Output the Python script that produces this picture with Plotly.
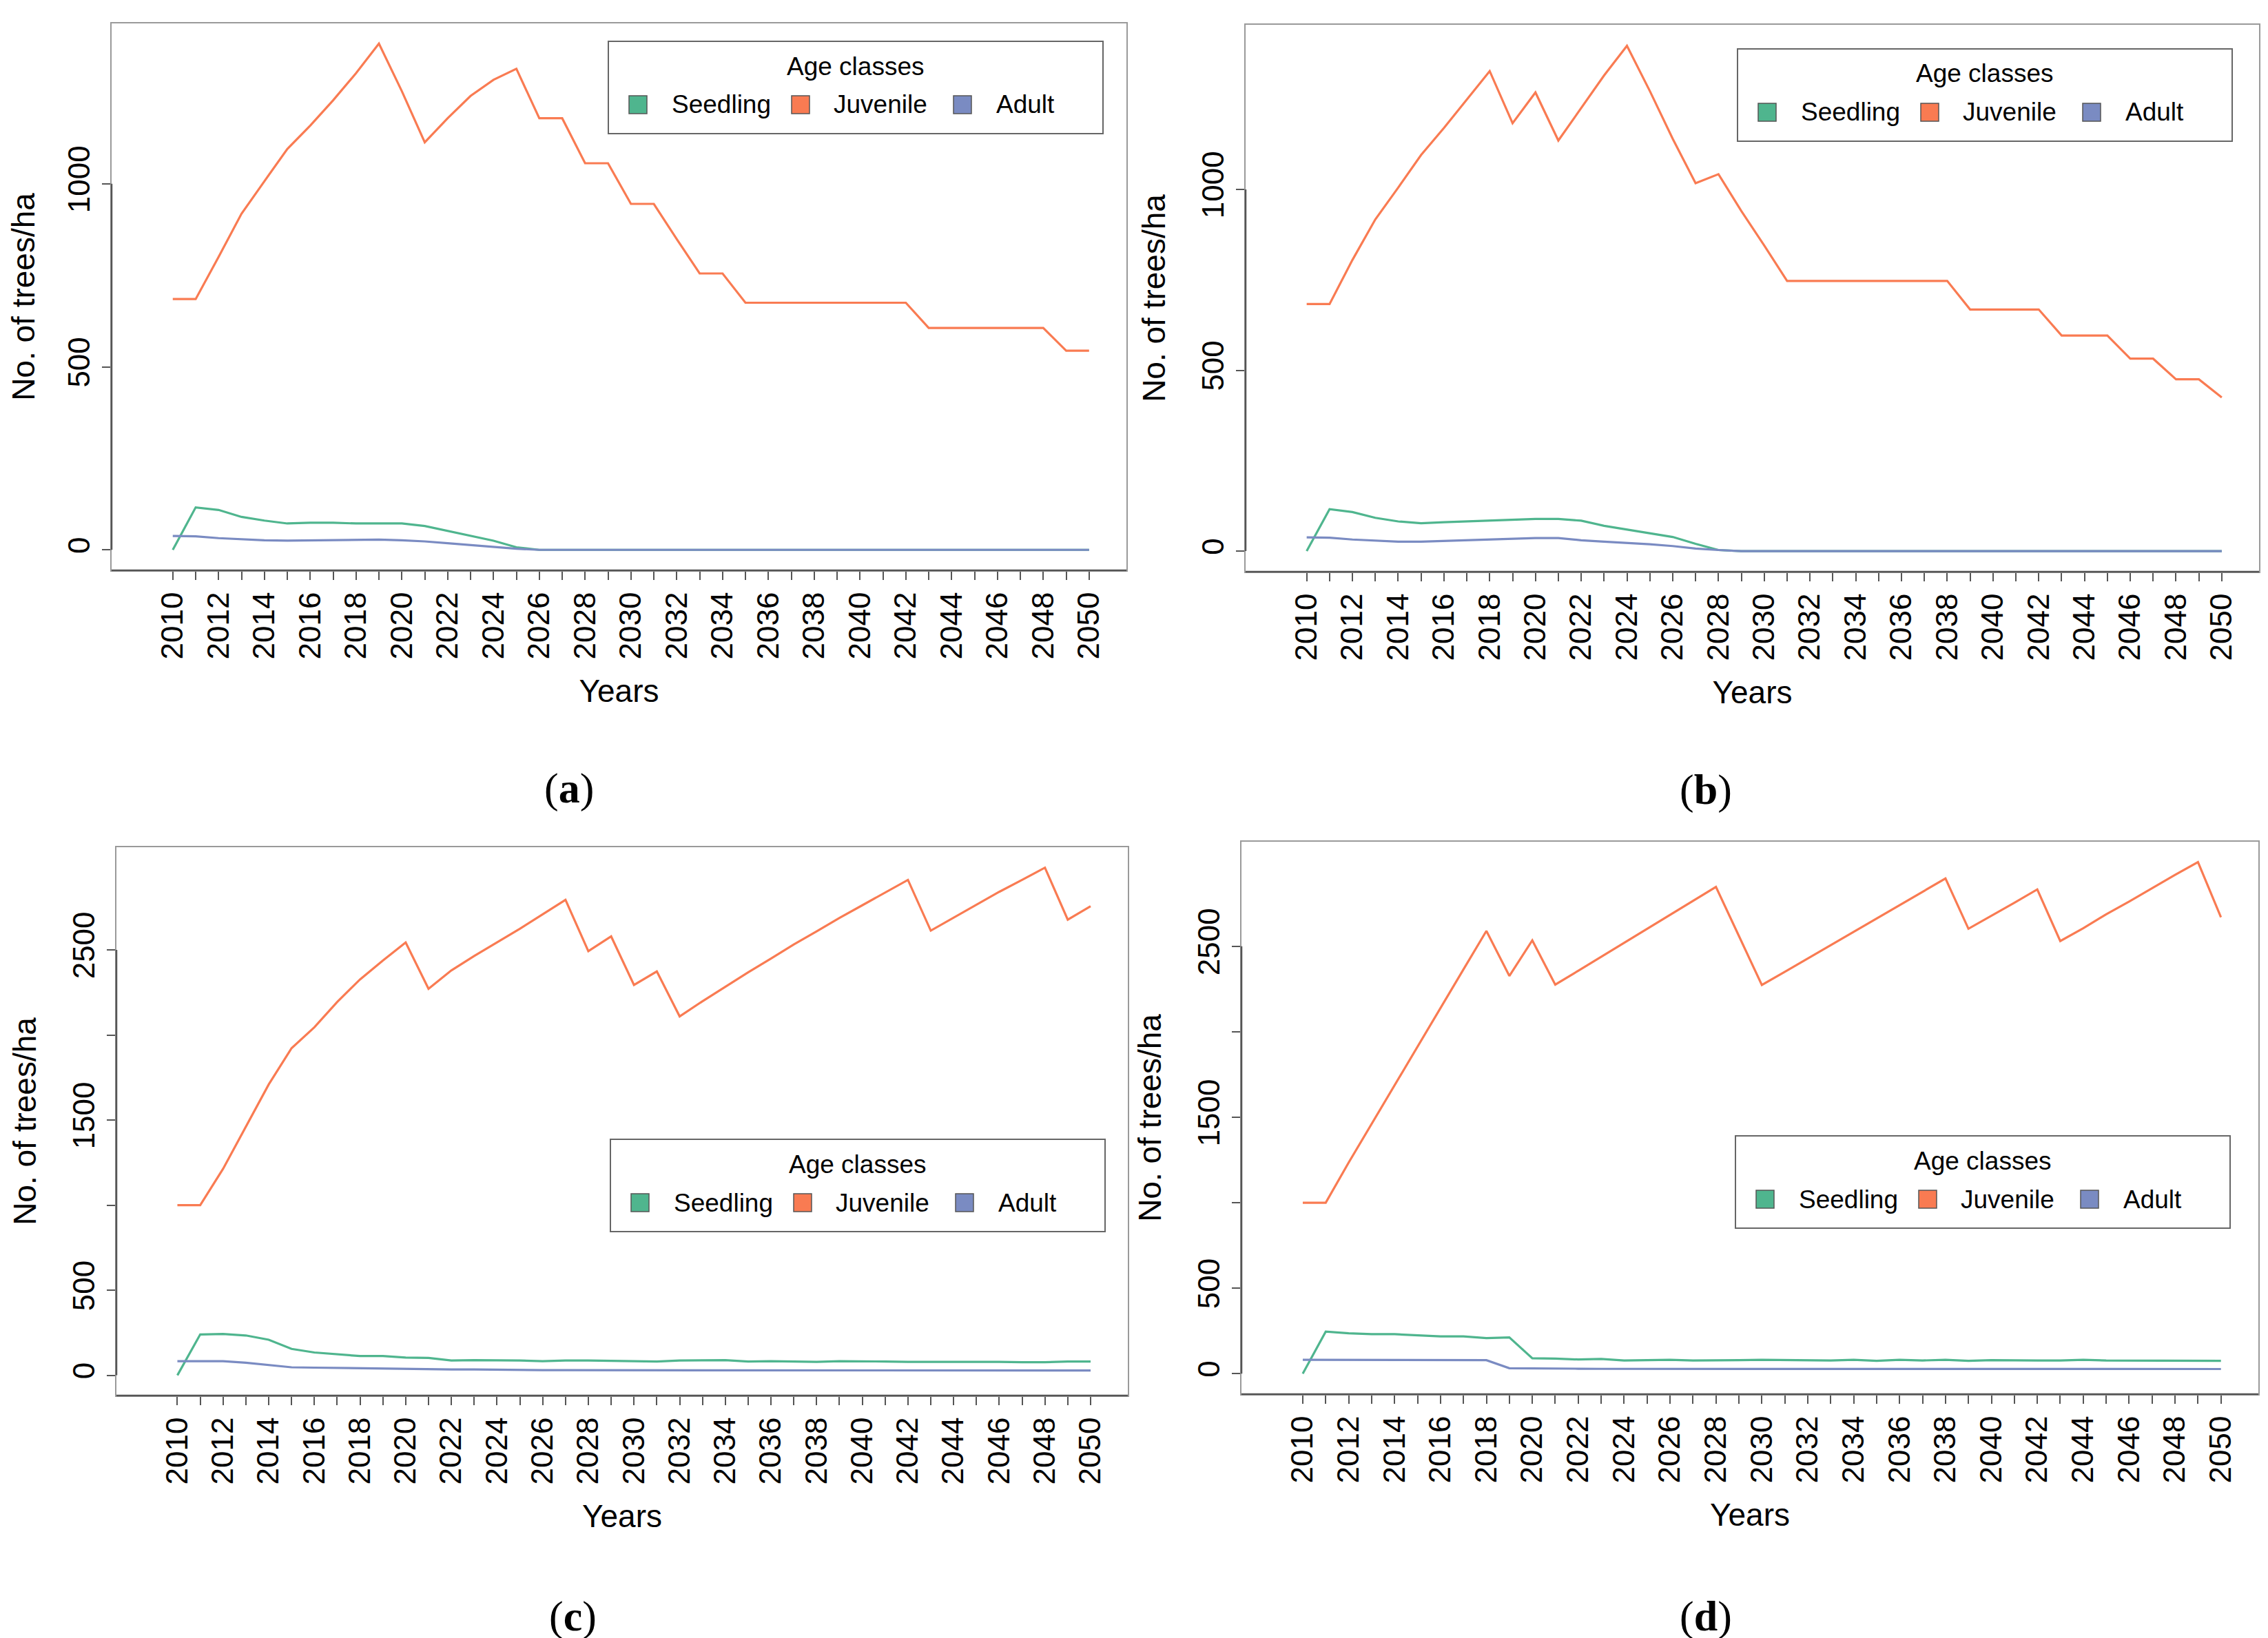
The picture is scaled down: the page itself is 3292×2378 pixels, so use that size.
import plotly.graph_objects as go

W, H = 3292, 2378
FONT = "Liberation Sans"

years = list(range(2010, 2051))
series_names = ["Seedling", "Juvenile", "Adult"]
series_colors = ["#4FB58E", "#F97B52", "#7A8BC2"]

# ---- Panel (a) ----
a_seedling = [0, 116, 109, 90, 80, 72, 74, 74, 72, 72, 72, 65, 52, 39, 25, 7,
              0, 0, 0, 0, 0, 0, 0, 0, 0, 0, 0, 0, 0, 0, 0, 0, 0, 0, 0, 0, 0, 0, 0, 0, 0]
a_juvenile = [685, 685, 800, 918, 1007, 1095, 1159, 1228, 1302, 1383, 1253, 1113, 1179, 1240,
              1284, 1314, 1179, 1179, 1056, 1056, 945, 945, 849, 755, 755, 675, 675, 675, 675,
              675, 675, 675, 675, 606, 606, 606, 606, 606, 606, 544, 544]
a_adult = [38, 37, 32, 29, 26, 25, 26, 27, 27, 28, 26, 23, 18, 13, 8, 3,
           0, 0, 0, 0, 0, 0, 0, 0, 0, 0, 0, 0, 0, 0, 0, 0, 0, 0, 0, 0, 0, 0, 0, 0, 0]

# ---- Panel (b) ----
b_seedling = [0, 116, 108, 92, 82, 77, 80, 82, 84, 87, 89, 89, 84, 70, 60, 50, 39, 20, 3,
              0, 0, 0, 0, 0, 0, 0, 0, 0, 0, 0, 0, 0, 0, 0, 0, 0, 0, 0, 0, 0, 0]
b_juvenile = [683, 683, 805, 917, 1005, 1095, 1170, 1248, 1327, 1183, 1268, 1135, 1225, 1315,
              1397, 1272, 1140, 1017, 1042, 940, 845, 747, 747, 747, 747, 747, 747, 747, 747,
              668, 668, 668, 668, 596, 596, 596, 532, 532, 475, 475, 425]
b_adult = [38, 37, 32, 29, 26, 26, 28, 29, 31, 34, 36, 36, 30, 26, 23, 19, 14, 7, 3,
           0, 0, 0, 0, 0, 0, 0, 0, 0, 0, 0, 0, 0, 0, 0, 0, 0, 0, 0, 0, 0, 0]

# ---- Panel (c) ----
c_seedling = [0, 240, 243, 234, 209, 155, 134, 123, 113, 113, 104, 102, 87, 89, 89, 87, 83,
              87, 87, 85, 83, 81, 87, 87, 89, 81, 83, 81, 79, 83, 83, 81, 79, 79, 81, 79, 79,
              77, 77, 81, 81]
c_juvenile = [1000, 1000, 1213, 1464, 1709, 1922, 2045, 2194, 2326, 2437, 2543, 2271, 2379,
              2464, 2543, 2624, 2709, 2794, 2492, 2579, 2294, 2373, 2109, 2198, 2283, 2368,
              2449, 2532, 2609, 2688, 2762, 2837, 2911, 2613, 2688, 2766, 2841, 2911, 2983,
              2677, 2756]
c_adult = [83, 83, 83, 74, 60, 47, 45, 43, 40, 40, 38, 36, 34, 34, 32, 31, 30, 30, 30, 30,
           29, 29, 29, 29, 29, 29, 28, 28, 28, 28, 28, 28, 28, 28, 28, 28, 28, 28, 28, 28, 28]

# ---- Panel (d) ----
d_seedling = [0, 246, 236, 231, 231, 223, 218, 218, 208, 212, 90, 88, 83, 86, 77, 79, 81, 77,
              77, 79, 81, 79, 79, 77, 81, 75, 81, 77, 81, 75, 79, 77, 77, 77, 81, 77, 77, 77,
              75, 75, 75]
d_juvenile = [1000, 1000, 1235, 1462, 1690, 1915, 2140, 2365, 2590, 2327, 2535, 2276, 2357,
              2439, 2520, 2601, 2683, 2764, 2848, 2561, 2274, 2351, 2429, 2507, 2586, 2663,
              2740, 2819, 2897, 2603, 2678, 2755, 2833, 2531, 2606, 2687, 2762, 2841, 2918,
              2993, 2670]
d_adult = [81, 81, 81, 81, 81, 80, 80, 80, 79, 32, 30, 29, 29, 28, 28, 28, 28, 27, 27, 27,
           27, 27, 27, 27, 27, 27, 27, 27, 27, 27, 27, 27, 27, 27, 27, 27, 27, 27, 27, 27, 27]

ticks_small = [0, 500, 1000]
ticks_small_text = ["0", "500", "1000"]
ticks_large = [0, 500, 1000, 1500, 2000, 2500]
ticks_large_text = ["0", "500", "", "1500", "", "2500"]
x_ticktext = [str(y) if y % 2 == 0 else "" for y in years]

panels = [
    dict(tag="a", data=[a_seedling, a_juvenile, a_adult], frame=(154, 1627, 26, 820),
         yrange=[-56, 1438], yt=ticks_small, ytt=ticks_small_text, leg=(875, 52), lab=(818, 1137)),
    dict(tag="b", data=[b_seedling, b_juvenile, b_adult], frame=(1800, 3271, 28, 822),
         yrange=[-57, 1455], yt=ticks_small, ytt=ticks_small_text, leg=(2514, 63), lab=(2468, 1139)),
    dict(tag="c", data=[c_seedling, c_juvenile, c_adult], frame=(161, 1629, 1222, 2018),
         yrange=[-119, 3103], yt=ticks_large, ytt=ticks_large_text, leg=(878, 1646), lab=(823, 2338)),
    dict(tag="d", data=[d_seedling, d_juvenile, d_adult], frame=(1794, 3270, 1214, 2016),
         yrange=[-120, 3112], yt=ticks_large, ytt=ticks_large_text, leg=(2511, 1641), lab=(2468, 2338)),
]

def px(x):
    return x / W

def py(y):
    return 1 - y / H

fig = go.Figure()
shapes = []
annotations = []
layout_axes = {}

LEG_W, LEG_H = 718, 134

for i, p in enumerate(panels):
    n = "" if i == 0 else str(i + 1)
    xa, ya = "x" + n, "y" + n
    x0, x1, y0, y1 = p["frame"]
    for name, col, vals in zip(series_names, series_colors, p["data"]):
        fig.add_trace(go.Scatter(x=years, y=vals, mode="lines", name=name,
                                 line=dict(color=col, width=3.2),
                                 xaxis=xa, yaxis=ya, showlegend=False))
    layout_axes["xaxis" + n] = dict(
        domain=[px(x0), px(x1)], range=[2007.33, 2051.63], anchor=ya,
        tickmode="array", tickvals=years, ticktext=x_ticktext, tickangle=-90,
        ticks="outside", ticklen=12, tickwidth=2, tickcolor="#555555",
        showline=True, mirror=True, linecolor="#9a9a9a", linewidth=2,
        showgrid=False, zeroline=False,
        tickfont=dict(family=FONT, size=44, color="black"),
        title=dict(text="Years", font=dict(family=FONT, size=46, color="black"), standoff=30),
    )
    layout_axes["yaxis" + n] = dict(
        domain=[py(y1), py(y0)], range=p["yrange"], anchor=xa,
        tickmode="array", tickvals=p["yt"], ticktext=p["ytt"], tickangle=-90,
        ticks="outside", ticklen=12, tickwidth=2, tickcolor="#555555",
        showline=True, mirror=True, linecolor="#9a9a9a", linewidth=2,
        showgrid=False, zeroline=False,
        tickfont=dict(family=FONT, size=44, color="black"),
        title=dict(text="No. of trees/ha", font=dict(family=FONT, size=46, color="black"), standoff=30),
    )
    # darker axis lines (R axis segments)
    shapes.append(dict(type="line", xref=xa + " domain", yref=ya, x0=0, x1=0,
                       y0=p["yt"][0], y1=p["yt"][-1], line=dict(color="#555555", width=2.5)))
    shapes.append(dict(type="line", xref=xa + " domain", yref=ya + " domain", x0=0, x1=1,
                       y0=0, y1=0, line=dict(color="#555555", width=2.5)))
    # legend box
    lx, ly = p["leg"]
    shapes.append(dict(type="rect", xref="paper", yref="paper", x0=px(lx), x1=px(lx + LEG_W),
                       y0=py(ly + LEG_H), y1=py(ly), line=dict(color="#666666", width=2),
                       fillcolor="white"))
    annotations.append(dict(xref="paper", yref="paper", x=px(lx + LEG_W / 2), y=py(ly + 36),
                            text="Age classes", showarrow=False, xanchor="center", yanchor="middle",
                            font=dict(family=FONT, size=37, color="black")))
    sq_off = [30, 266, 501]
    lab_off = [90, 325, 561]
    for name, col, so, lo in zip(series_names, series_colors, sq_off, lab_off):
        cy = ly + 92
        shapes.append(dict(type="rect", xref="paper", yref="paper",
                           x0=px(lx + so), x1=px(lx + so + 26),
                           y0=py(cy + 13), y1=py(cy - 13),
                           line=dict(color="#555555", width=1.5), fillcolor=col))
        annotations.append(dict(xref="paper", yref="paper", x=px(lx + lo), y=py(cy),
                                text=name, showarrow=False, xanchor="left", yanchor="middle",
                                font=dict(family=FONT, size=37, color="black")))
    lbx, lby = p["lab"]
    annotations.append(dict(xref="paper", yref="paper", x=px(lbx), y=py(lby),
                            text="(<b>" + p["tag"] + "</b>)", showarrow=False,
                            xanchor="center", yanchor="middle",
                            font=dict(family="Liberation Serif", size=62, color="black")))

fig.update_layout(
    width=W, height=H, margin=dict(l=0, r=0, t=0, b=0),
    paper_bgcolor="white", plot_bgcolor="white",
    showlegend=False, shapes=shapes, annotations=annotations,
    **layout_axes,
)

fig.write_html("out.html")
